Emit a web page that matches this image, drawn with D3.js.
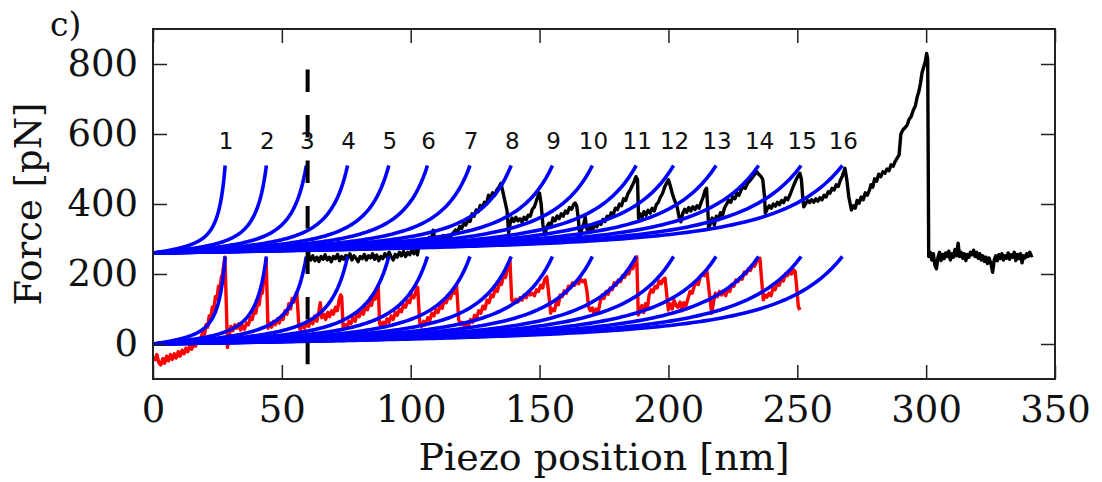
<!DOCTYPE html>
<html lang="en">
<head>
<meta charset="UTF-8">
<title>Force curve</title>
<script src="https://d3js.org/d3.v7.min.js"></script>
<style>
  body { margin: 0; background: #fff; }
  svg { display: block; }
</style>
</head>
<body>
<svg id="chart"></svg>
<script>
const width = 1102, height = 482;
const margin = {left: 153, right: 47, top: 29, bottom: 103};

// contour positions where each fitted curve ends (nm)
const contourEnds = [28, 44, 59.5, 75.5, 91.5, 106.5, 123, 139, 155, 170.5, 187.5, 202, 218.5, 235, 251.5, 267.5];
const peakLabels = ["1","2","3","4","5","6","7","8","9","10","11","12","13","14","15","16"];
const fitOffsets = [0, 260];   // lower and upper set of fits (pN)
const fitForce = 250;          // force at the end of each fit (pN)
const kTp = 24;                // kT / persistence length (pN)
const dashedX = 60;
const xTicks = [0, 50, 100, 150, 200, 250, 300, 350];
const yTicks = [0, 200, 400, 600, 800];

// red trace [nm, pN]
const redTrace = [
  [0,-38],[0.8,-45],[1.5,-30],[2.2,-52],[3,-60],[3.8,-42],[4.5,-55],[5.3,-35],[6,-48],[6.8,-30],[7.5,-44],[8.3,-28],
  [9,-40],[9.8,-22],[10.5,-35],[11.3,-18],[12,-28],[12.8,-12],[13.5,-22],[14.3,-5],[15,-15],[15.8,2],[16.5,-6],[17.3,10],
  [18,4],[18.7,20],[19.4,35],[20,28],[20.6,55],[21.2,48],[21.8,80],[22.4,72],[23,105],[23.6,98],[24.2,135],[24.8,128],
  [25.4,165],[26,158],[26.5,190],[27,200],[27.5,230],[27.9,248],[28.5,100],[28.9,-10],[29.5,20],[30.2,50],[31,38],
  [31.8,55],[32.5,45],[33.3,58],[34,40],[34.8,52],[35.5,42],[36.3,60],[37,55],[37.8,75],[38.5,70],[39.2,95],[39.9,88],
  [40.6,120],[41.2,112],[41.8,150],[42.4,145],[43,185],[43.5,210],[43.9,245],[44.6,45],[45.3,60],[46,48],[46.8,65],
  [47.5,55],[48.3,72],[49,60],[49.8,80],[50.5,70],[51.2,95],[52,85],[52.7,115],[53.4,100],[54,130],[54.7,120],[55.3,140],
  [55.8,148],[56.6,50],[57.2,40],[58,55],[58.8,45],[59.6,62],[60.4,50],[61.2,70],[62,58],[62.8,80],[63.6,65],[64.4,95],
  [64.9,118],[65.5,75],[66.3,85],[67,70],[67.8,90],[68.5,78],[69.3,95],[70,85],[70.8,105],[71.5,95],[72.2,125],[72.8,140],
  [73.2,136],[73.8,42],[74.5,55],[75.3,48],[76,65],[76.8,58],[77.6,75],[78.4,65],[79.2,88],[80,78],[80.8,95],[81.6,85],
  [82.4,105],[83.2,98],[84,118],[84.8,110],[85.5,135],[86.2,128],[87,155],[87.4,168],[87.9,60],[88.5,50],[89.3,62],
  [90,55],[90.8,72],[91.6,62],[92.4,80],[93.2,70],[94,90],[94.8,82],[95.6,100],[96.4,92],[97.2,112],[98,105],[98.8,125],
  [99.6,118],[100.4,140],[101.2,132],[102,150],[102.7,162],[103.5,60],[104.2,50],[105,65],[105.8,55],[106.6,75],[107.4,68],
  [108.2,88],[109,80],[109.8,98],[110.6,90],[111.4,110],[112.2,102],[113,125],[113.8,118],[114.6,138],[115.4,130],
  [116.2,150],[117,145],[117.8,167],[118.6,70],[119.3,55],[120,62],[120.8,50],[121.6,58],[122.4,52],[123.2,70],[124,62],
  [124.8,82],[125.6,75],[126.4,95],[127.2,88],[128,108],[128.8,100],[129.6,125],[130.4,118],[131.2,140],[132,135],
  [132.8,158],[133.6,150],[134.4,175],[135.2,170],[136,195],[136.8,190],[137.6,218],[138.5,240],[139.2,125],[140,118],
  [140.8,128],[141.6,120],[142.4,132],[143.2,125],[144,140],[144.8,132],[145.6,148],[146.4,140],[147.2,145],[148,138],
  [148.8,155],[149.6,150],[150.4,168],[151.2,160],[152,185],[152.8,192],[153.6,140],[154.3,88],[155,100],[155.8,95],
  [156.5,120],[157.3,112],[158,140],[158.8,135],[159.6,152],[160.4,145],[161.2,165],[162,160],[162.8,175],[163.6,168],
  [164.4,180],[165.2,172],[166,185],[166.8,178],[167.6,183],[168.4,150],[169,107],[169.7,95],[170.5,103],[171.2,85],
  [172,100],[172.8,92],[173.5,120],[174.3,140],[175,130],[175.8,150],[176.6,142],[177.4,160],[178.2,155],[179,175],
  [179.8,168],[180.6,183],[181.4,178],[182.2,195],[183,190],[183.8,205],[184.6,200],[185.4,220],[186.2,215],[187,235],
  [187.7,249],[188.3,83],[189,95],[189.7,110],[190.4,90],[191.1,115],[191.8,100],[192.5,140],[193.3,155],[194,148],
  [194.8,165],[195.6,160],[196.4,180],[197.2,172],[198,185],[198.7,188],[199.5,130],[200,97],[200.8,115],[201.5,100],
  [202.2,125],[203,110],[203.7,105],[204.5,120],[205.3,95],[206,118],[206.8,110],[207.6,130],[208.4,150],[209.2,145],
  [210,165],[210.8,175],[211.6,170],[212.4,195],[213.2,200],[214,195],[214.9,211],[215.8,150],[216.8,88],[217.5,120],
  [218.2,145],[219,135],[219.8,150],[220.6,140],[221.4,152],[222.2,138],[223,155],[223.8,150],[224.6,170],[225.4,165],
  [226.2,183],[227,178],[227.8,190],[228.6,185],[229.4,205],[230.2,200],[231,215],[231.8,210],[232.6,225],[233.4,222],
  [234.5,240],[235.5,245],[236.2,180],[236.8,126],[237.5,140],[238.2,134],[239,145],[239.8,138],[240.6,160],[241.4,155],
  [242.2,174],[243,168],[243.8,185],[244.6,180],[245.4,200],[246.2,195],[247,205],[247.8,200],[248.6,212],[249.2,207],
  [249.8,160],[250.4,107],[251,97]
];

// black trace [nm, pN]
const blackTrace = [
  [60.2,290],[60.5,250],[61.2,240],[62,252],[62.8,238],[63.6,248],[64.4,236],[65.2,250],[66,242],[66.8,255],[67.6,240],
  [68.4,248],[69.2,235],[70,250],[70.8,244],[71.6,256],[72.4,238],[73.2,250],[74,242],[74.8,253],[75.6,246],[76.4,258],
  [77.2,240],[78,252],[78.8,245],[79.6,235],[80.4,250],[81.2,244],[82,256],[82.8,240],[83.6,252],[84.4,246],[85.2,258],
  [86,242],[86.8,254],[87.6,238],[88.4,250],[89.2,244],[90,258],[90.8,248],[91.6,262],[92.4,250],[93.2,240],[94,256],
  [94.8,248],[95.6,262],[96.4,252],[97.2,264],[98,250],[98.8,262],[99.6,255],[100.4,268],[101.2,258],[102,272],[102.6,255],
  [103.2,280],[104,292],[104.8,285],[105.6,298],[106.4,290],[107.2,305],[108,296],[108.7,325],[109.4,300],[110.2,296],
  [111,306],[111.8,298],[112.6,310],[113.4,300],[114.2,305],[115,298],[115.8,312],[116.6,318],[117.4,326],[118.2,320],
  [119,336],[119.8,330],[120.6,346],[121.4,340],[122.2,355],[123,350],[123.8,372],[124.6,365],[125.4,383],[126.2,378],
  [127,396],[127.8,390],[128.6,405],[129.4,400],[130.2,425],[131,418],[131.8,432],[132.6,425],[133.4,440],[134.2,448],
  [135,459],[135.6,440],[136.2,420],[136.8,400],[137.4,380],[138,317],[138.6,345],[139.3,360],[140,350],[140.8,362],
  [141.6,352],[142.4,358],[143.2,348],[144,362],[144.8,355],[145.6,368],[146.4,365],[147.2,385],[148,392],[148.8,410],
  [149.5,425],[150,431],[150.6,400],[151.3,340],[152,311],[152.8,334],[153.6,345],[154.4,338],[155.2,360],[156,352],
  [156.8,366],[157.6,358],[158.4,372],[159.2,365],[160,380],[160.8,374],[161.6,390],[162.4,385],[163.2,398],[163.8,403],
  [164.4,395],[165,360],[165.7,303],[166.4,330],[167.2,345],[167.7,363],[168.3,330],[169,320],[169.8,335],[170.6,325],
  [171.4,342],[172.2,335],[173,348],[173.8,342],[174.6,356],[175.4,350],[176.2,365],[177,360],[177.8,375],[178.6,370],
  [179.4,388],[180.2,384],[181,400],[181.8,395],[182.6,415],[183.4,410],[184.2,428],[185,438],[185.8,450],[186.6,462],
  [187.4,478],[188,470],[188.4,359],[189,372],[189.7,362],[190.5,378],[191.3,368],[192.1,382],[192.9,374],[193.7,388],
  [194.5,380],[195.3,398],[196.1,405],[196.9,420],[197.7,430],[198.5,448],[199.3,460],[200,469],[200.6,455],[201.5,430],
  [202.4,410],[203.3,395],[204.2,360],[204.8,349],[205.5,372],[206.3,385],[207.1,376],[207.9,390],[208.7,380],[209.5,392],
  [210.3,384],[211.1,395],[211.9,388],[212.7,405],[213.5,420],[214.3,440],[214.8,445],[215.3,380],[215.6,330],[216.3,345],
  [217,360],[217.8,340],[218.6,365],[219.4,355],[220.2,375],[221,368],[221.8,390],[222.6,400],[223.4,411],[224.2,405],
  [225,420],[225.8,415],[226.6,431],[227.4,425],[228.2,440],[229,449],[229.8,445],[230.6,458],[231.4,465],[232.2,472],
  [233,480],[233.8,488],[234.3,492],[235,485],[235.8,480],[236.6,470],[237.3,420],[237.6,374],[238.3,385],[239.1,395],
  [239.9,388],[240.7,400],[241.5,394],[242.3,405],[243.1,398],[243.9,410],[244.7,404],[245.5,418],[246.3,412],[247.1,425],
  [247.9,440],[248.7,455],[249.5,469],[250.3,480],[251,488],[251.6,470],[252.1,420],[252.5,392],[253.2,400],[254,410],
  [254.8,404],[255.6,412],[256.4,405],[257.2,415],[258,408],[258.8,418],[259.6,412],[260.4,425],[261.2,420],[262,435],
  [262.7,431],[263.5,445],[264.3,440],[265.1,455],[265.9,450],[266.7,468],[267.5,480],[268.5,502],[269.2,470],[270,420],
  [271,383],[271.8,395],[272.5,388],[273.2,410],[274,402],[274.8,420],[275.6,412],[276.4,432],[277.2,425],[278,440],
  [278.6,455],[279.3,448],[280,472],[280.8,465],[281.6,485],[282.4,478],[283.2,492],[284,488],[284.8,500],[285.6,495],
  [286.4,512],[287.2,508],[288,522],[288.8,532],[289.5,540],[290.2,600],[291,612],[291.8,618],[292.6,625],[293.4,642],
  [294.2,650],[295,668],[295.8,680],[296.5,705],[297.2,722],[297.8,745],[298.4,775],[299,790],[299.6,805],[300.2,830],
  [300.6,815],[301,250],[301.6,262],[302.2,240],[302.8,258],[303.4,225],[304,215],[304.6,248],[305.2,262],[305.8,238],
  [306.4,256],[307,244],[307.6,260],[308.2,250],[308.8,265],[309.4,240],[310,258],[310.6,248],[311.2,270],[311.8,252],
  [312.4,288],[313,250],[313.6,262],[314.2,245],[314.8,258],[315.4,238],[316,256],[316.6,248],[317.2,262],[317.8,255],
  [318.4,268],[319,250],[319.6,262],[320.2,245],[320.8,258],[321.4,240],[322,252],[322.6,236],[323.2,248],[323.8,230],
  [324.4,246],[325.2,228],[325.8,205],[326.4,240],[327,252],[327.6,238],[328.2,255],[328.8,244],[329.4,258],[330,240],
  [330.6,252],[331.2,245],[331.8,260],[332.4,242],[333,255],[333.6,248],[334.2,262],[334.8,238],[335.4,256],[336,244],
  [336.6,258],[337.2,232],[337.8,252],[338.4,246],[339,258],[339.6,250],[340.2,262],[340.8,252],[341.4,254]
];

const svg = d3.select("#chart")
  .attr("width", width)
  .attr("height", height)
  .style("background", "#fff");

const x = d3.scaleLinear().domain([0, 350]).range([margin.left, width - margin.right]);
const y = d3.scaleLinear().domain([-100, 900]).range([height - margin.bottom, margin.top]);

const line = d3.line().x(d => x(d[0])).y(d => y(d[1]));

// worm-like chain force at extension e for contour length L
function wlc(e, L) {
  const r = e / L;
  return kTp * (0.25 / ((1 - r) * (1 - r)) - 0.25 + r);
}

// fraction of contour length where the fit reaches fitForce
let lo = 0, hi = 0.999;
for (let i = 0; i < 60; i++) {
  const mid = (lo + hi) / 2;
  if (wlc(mid, 1) < fitForce) lo = mid; else hi = mid;
}
const rEnd = lo;

const plot = svg.append("g");

plot.append("path")
  .datum(redTrace)
  .attr("fill", "none")
  .attr("stroke", "#ff0000")
  .attr("stroke-width", 3.4)
  .attr("stroke-linejoin", "round")
  .attr("d", line);

plot.append("path")
  .datum(blackTrace)
  .attr("fill", "none")
  .attr("stroke", "#000")
  .attr("stroke-width", 3.4)
  .attr("stroke-linejoin", "round")
  .attr("d", line);

const fits = [];
fitOffsets.forEach(off => {
  contourEnds.forEach(end => {
    const L = end / rEnd;
    fits.push(d3.range(0, 121).map(i => {
      const e = end * i / 120;
      return [e, off + wlc(e, L)];
    }));
  });
});

plot.selectAll(".fit")
  .data(fits)
  .enter().append("path")
  .attr("class", "fit")
  .attr("fill", "none")
  .attr("stroke", "#0000ff")
  .attr("stroke-width", 3.6)
  .attr("d", line);

plot.append("line")
  .attr("x1", x(dashedX)).attr("x2", x(dashedX))
  .attr("y1", y(784)).attr("y2", y(-58))
  .attr("stroke", "#000")
  .attr("stroke-width", 4)
  .attr("stroke-dasharray", "22.5,23");

plot.selectAll(".peak")
  .data(peakLabels)
  .enter().append("text")
  .attr("class", "peak")
  .attr("x", (d, i) => x(contourEnds[i]) + 1)
  .attr("y", y(556))
  .attr("text-anchor", "middle")
  .style("font-family", "DejaVu Sans")
  .style("font-size", "23px")
  .attr("fill", "#111")
  .text(d => d);

// axes, ticks pointing inward on all four sides
const tickLen = 14;
const axisFont = g => g.selectAll("text")
  .style("font-family", "DejaVu Serif")
  .style("font-size", "37px")
  .attr("fill", "#111");

svg.append("g")
  .attr("transform", `translate(0,${height - margin.bottom})`)
  .call(d3.axisBottom(x).tickValues(xTicks).tickSize(-tickLen).tickPadding(17))
  .call(axisFont);

svg.append("g")
  .attr("transform", `translate(${margin.left},0)`)
  .call(d3.axisLeft(y).tickValues(yTicks).tickSize(-tickLen).tickPadding(15))
  .call(axisFont);

svg.append("g")
  .attr("transform", `translate(0,${margin.top})`)
  .call(d3.axisTop(x).tickValues(xTicks).tickSize(-tickLen).tickFormat(""));

svg.append("g")
  .attr("transform", `translate(${width - margin.right},0)`)
  .call(d3.axisRight(y).tickValues(yTicks).tickSize(-tickLen).tickFormat(""));

svg.selectAll(".domain").remove();
svg.selectAll(".tick line").attr("stroke", "#222").attr("stroke-width", 1.5);

svg.append("rect")
  .attr("x", margin.left).attr("y", margin.top)
  .attr("width", width - margin.left - margin.right)
  .attr("height", height - margin.top - margin.bottom)
  .attr("fill", "none")
  .attr("stroke", "#222")
  .attr("stroke-width", 2);

svg.append("text")
  .attr("x", (margin.left + width - margin.right) / 2)
  .attr("y", 470)
  .attr("text-anchor", "middle")
  .style("font-family", "DejaVu Serif")
  .style("font-size", "38px")
  .attr("fill", "#111")
  .text("Piezo position [nm]");

svg.append("text")
  .attr("transform", `translate(41,${(margin.top + height - margin.bottom) / 2}) rotate(-90)`)
  .attr("text-anchor", "middle")
  .style("font-family", "DejaVu Serif")
  .style("font-size", "37px")
  .attr("fill", "#111")
  .text("Force [pN]");

svg.append("text")
  .attr("x", 50)
  .attr("y", 36)
  .style("font-family", "DejaVu Serif")
  .style("font-size", "33px")
  .attr("fill", "#111")
  .text("c)");
</script>
</body>
</html>
